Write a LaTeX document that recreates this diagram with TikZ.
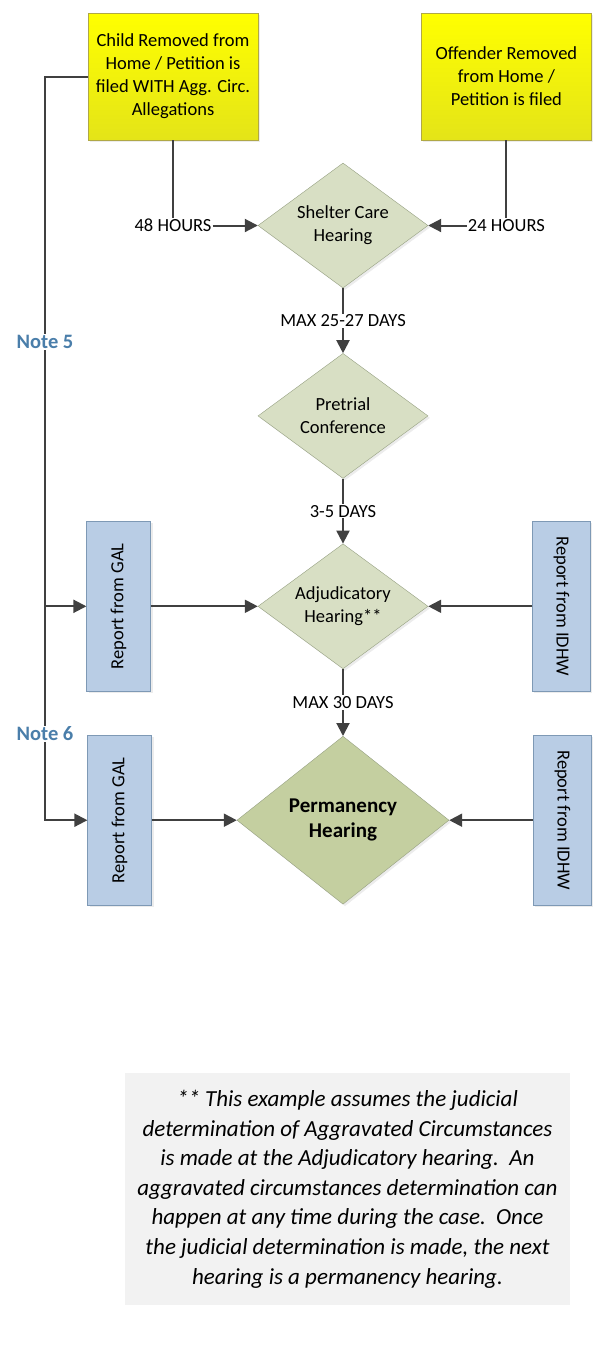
\documentclass[tikz,border=0pt]{standalone}
\usepackage{fontspec}
\setmainfont{Carlito}
\usetikzlibrary{arrows.meta,shapes.geometric,positioning,shadows}
\definecolor{lineg}{RGB}{64,64,64}
\definecolor{srctop}{RGB}{255,255,0}
\definecolor{srcfoot}{RGB}{228,228,24}
\definecolor{srcedge}{RGB}{176,168,70}
\definecolor{hearfill}{RGB}{216,223,196}
\definecolor{permfill}{RGB}{196,207,160}
\definecolor{hearedge}{RGB}{150,160,130}
\definecolor{repfill}{RGB}{185,205,229}
\definecolor{repedge}{RGB}{126,153,181}
\definecolor{notecol}{RGB}{74,126,170}
\definecolor{boxgray}{RGB}{242,242,242}
\begin{document}
\begin{tikzpicture}[x=1pt,y=-1pt,
    every node/.style={font=\fontsize{18.5}{23}\selectfont},
    softshadow/.style={drop shadow={opacity=.15,shadow xshift=2pt,shadow yshift=-2pt}},
    source/.style={rectangle,draw=srcedge,top color=srctop,bottom color=srcfoot,
      minimum width=170pt,minimum height=127pt,align=center,softshadow},
    hearing/.style={diamond,draw=hearedge,fill=hearfill,aspect=1.35,inner sep=0pt,
      minimum width=170pt,minimum height=125pt,align=center,softshadow},
    report/.style={rectangle,draw=repedge,fill=repfill,minimum height=170pt,inner sep=0pt,softshadow},
    days/.style={fill=white,inner sep=1pt},
    notelbl/.style={fill=white,text=notecol,inner sep=1pt,font=\fontsize{20.5}{24}\selectfont\bfseries},
    link/.style={draw=lineg,line width=2pt},
    arr/.style={link,-{Triangle[length=13pt,width=13pt]}}]
  \useasboundingbox (0,0) rectangle (597,1353);

  % starting events
  \node[source] (child) at (173,76.5) {Child Removed from\\Home / Petition is\\filed WITH Agg. Circ.\\Allegations};
  \node[source] (offender) [right=163pt of child] {Offender Removed\\from Home /\\Petition is filed};

  % hearings
  \node[hearing] (shelter) at (343,225.5) {Shelter Care\\Hearing};
  \node[hearing] (pretrial) [below=65pt of shelter] {Pretrial\\Conference};
  \node[hearing] (adj) [below=65pt of pretrial] {Adjudicatory\\Hearing**};
  \node[hearing,aspect=1.26,minimum width=212pt,minimum height=168pt,fill=permfill,
    font=\fontsize{21}{25}\selectfont\bfseries] (perm) [below=67pt of adj] {Permanency\\Hearing};

  % reports
  \node[report,minimum width=64pt] (gal1) [left=107pt of adj] {\rotatebox{90}{Report from GAL}};
  \node[report,minimum width=58pt] (idhw1) [right=104pt of adj] {\rotatebox{-90}{Report from IDHW}};
  \node[report,minimum width=64pt] (gal2) [left=85pt of perm] {\rotatebox{90}{Report from GAL}};
  \node[report,minimum width=58pt] (idhw2) [right=84pt of perm] {\rotatebox{-90}{Report from IDHW}};

  % hours
  \node[inner sep=1pt] (h48) at (child |- shelter) {48 HOURS};
  \node[inner sep=1pt] (h24) at (offender |- shelter) {24 HOURS};
  \draw[link] (child.south) -- (h48.north);
  \draw[arr] (h48.east) -- (shelter.west);
  \draw[link] (offender.south) -- (h24.north);
  \draw[arr] (h24.west) -- (shelter.east);

  % days
  \draw[arr] (shelter) -- node[days] {MAX 25-27 DAYS} (pretrial);
  \draw[arr] (pretrial) -- node[days] {3-5 DAYS} (adj);
  \draw[arr] (adj) -- node[days] {MAX 30 DAYS} (perm);

  % left trunk
  \coordinate (bend) at (45,76.5);
  \draw[arr] (child.west) -- (bend) |- (gal2.west);
  \draw[arr] (bend |- gal1.west) -- (gal1.west);
  \node[notelbl] (note5) at (45,342) {Note 5};
  \node[notelbl] (note6) at (45,734) {Note 6};

  \draw[arr] (gal1) -- (adj);
  \draw[arr] (idhw1) -- (adj);
  \draw[arr] (gal2) -- (perm);
  \draw[arr] (idhw2) -- (perm);

  % remark
  \node[fill=boxgray,minimum width=445pt,minimum height=232pt,align=center,
    font=\fontsize{23}{29.6}\selectfont\itshape] (remark) at (347.5,1189)
    {** This example assumes the judicial\\
     determination of Aggravated Circumstances\\
     is made at the Adjudicatory hearing.\ \ An\\
     aggravated circumstances determination can\\
     happen at any time during the case.\ \ Once\\
     the judicial determination is made, the next\\
     hearing is a permanency hearing.};
\end{tikzpicture}
\end{document}
